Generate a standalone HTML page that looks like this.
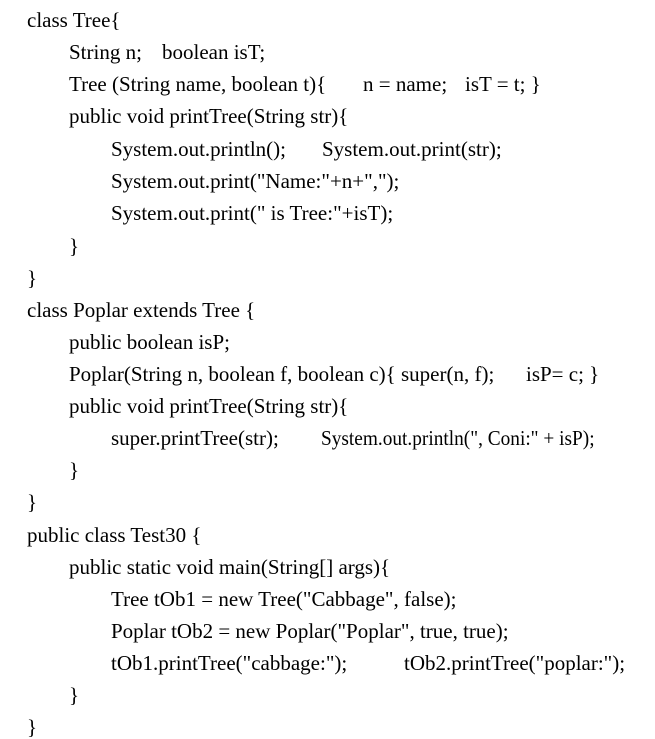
<!DOCTYPE html>
<html><head><meta charset="utf-8"><style>
body{margin:0;width:655px;height:734px;background:#fff;position:relative;overflow:hidden;font-family:"Liberation Serif",serif;font-size:21px;color:#000}
.l{position:absolute;white-space:pre;line-height:22px}
</style></head><body>
<div class="l" style="left:27px;top:9px">class Tree{</div>
<div class="l" style="left:69px;top:41px">String n;</div><div class="l" style="left:162px;top:41px">boolean isT;</div>
<div class="l" style="left:69px;top:73px">Tree (String name, boolean t){</div><div class="l" style="left:363px;top:73px">n = name;</div><div class="l" style="left:465px;top:73px">isT = t; }</div>
<div class="l" style="left:69px;top:105px">public void printTree(String str){</div>
<div class="l" style="left:111px;top:138px">System.out.println();</div><div class="l" style="left:322px;top:138px">System.out.print(str);</div>
<div class="l" style="left:111px;top:170px">System.out.print("Name:"+n+",");</div>
<div class="l" style="left:111px;top:202px">System.out.print(" is Tree:"+isT);</div>
<div class="l" style="left:69px;top:235px">}</div>
<div class="l" style="left:27px;top:267px">}</div>
<div class="l" style="left:27px;top:299px">class Poplar extends Tree {</div>
<div class="l" style="left:69px;top:331px">public boolean isP;</div>
<div class="l" style="left:69px;top:363px">Poplar(String n, boolean f, boolean c){ super(n, f);</div><div class="l" style="left:526px;top:363px">isP= c; }</div>
<div class="l" style="left:69px;top:395px">public void printTree(String str){</div>
<div class="l" style="left:111px;top:427px">super.printTree(str);</div><div class="l" style="left:321px;top:427px;transform:scaleX(0.92);transform-origin:left center">System.out.println(", Coni:" + isP);</div>
<div class="l" style="left:69px;top:459px">}</div>
<div class="l" style="left:27px;top:491px">}</div>
<div class="l" style="left:27px;top:524px">public class Test30 {</div>
<div class="l" style="left:69px;top:556px">public static void main(String[] args){</div>
<div class="l" style="left:111px;top:588px">Tree tOb1 = new Tree("Cabbage", false);</div>
<div class="l" style="left:111px;top:620px">Poplar tOb2 = new Poplar("Poplar", true, true);</div>
<div class="l" style="left:111px;top:652px">tOb1.printTree("cabbage:");</div><div class="l" style="left:404px;top:652px">tOb2.printTree("poplar:");</div>
<div class="l" style="left:69px;top:684px">}</div>
<div class="l" style="left:27px;top:716px">}</div>
</body></html>
